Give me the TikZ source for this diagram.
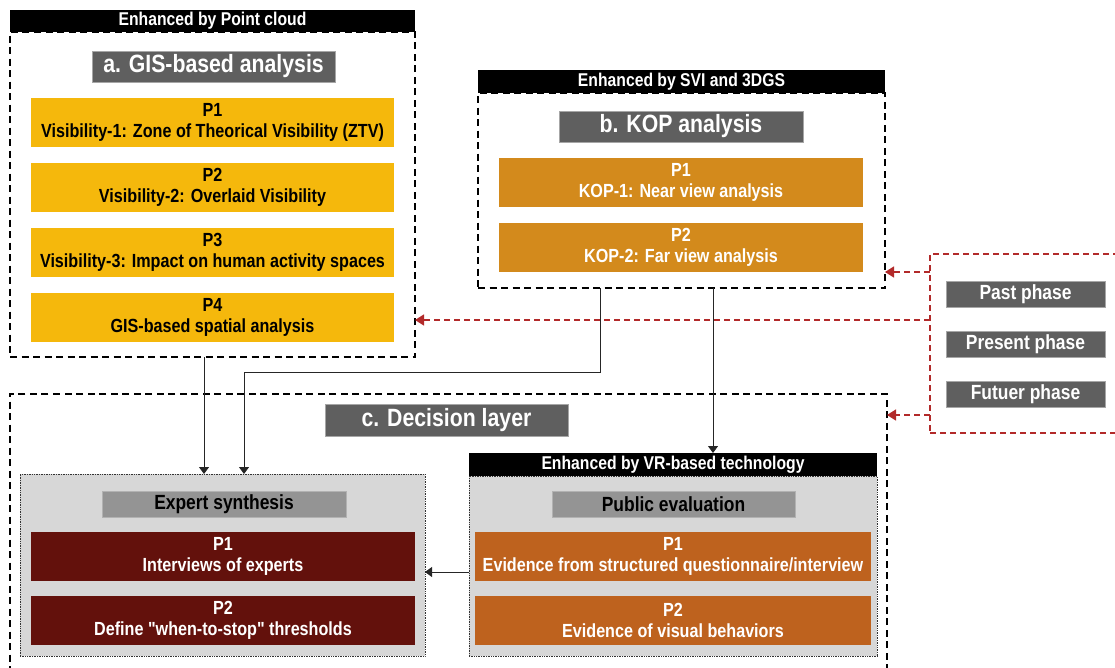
\documentclass[tikz,border=0pt]{standalone}
\usepackage{fontspec}
\setmainfont{Liberation Sans}[FakeStretch=0.85]
\newfontfamily\plainqf{Liberation Sans}[FakeStretch=0.85]
\usetikzlibrary{arrows.meta,calc}
\definecolor{cyel}{HTML}{F5B80C}
\definecolor{corgB}{HTML}{D38A1C}
\definecolor{cdred}{HTML}{63110C}
\definecolor{corgC}{HTML}{BE621E}
\definecolor{ctgray}{HTML}{5F5F5F}
\definecolor{clgray}{HTML}{D7D7D7}
\definecolor{csgray}{HTML}{949494}
\definecolor{cred}{HTML}{B22A2A}
\begin{document}
\begin{tikzpicture}[x=1pt,y=-1pt,
  every node/.style={inner sep=0pt, outer sep=0pt, anchor=north west},
  cont/.style={draw=black, line width=1.6pt, dash pattern=on 7pt off 4.5pt},
  hdr/.style={fill=black, text=white, font=\bfseries\fontsize{18.5}{20}\selectfont},
  ttl/.style={fill=ctgray, draw=gray!70, line width=0.6pt, text=white, font=\bfseries\fontsize{25}{28}\selectfont},
  pbox/.style={align=center, font=\bfseries\fontsize{19}{21.5}\selectfont},
  sub/.style={fill=csgray, draw=gray!60, line width=0.5pt, text=black, font=\bfseries\fontsize{20.5}{22}\selectfont},
  grp/.style={fill=clgray, draw=black!80, line width=0.7pt, densely dotted},
  phs/.style={fill=ctgray, draw=gray!70, line width=0.6pt, text=white, font=\bfseries\fontsize{20.5}{22}\selectfont},
  arr/.style={draw=black!85, line width=0.9pt, -{Triangle[width=10pt,length=7pt]}},
  rarr/.style={draw=cred, line width=1.5pt, dash pattern=on 6pt off 4pt, -{Triangle[width=11pt,length=9pt]}}
]
\clip (0,0) rectangle (1115,667);
% ---- Box A
\node[cont, minimum width=405, minimum height=325] (boxA) at (10,32) {};
\node[hdr, minimum width=405, minimum height=22] (hdrA) at (10,10) {Enhanced by Point cloud};
\node[ttl, minimum width=243, minimum height=31] (ttlA) at (92,51) {a. GIS-based analysis};
\node[pbox, fill=cyel, minimum width=363, minimum height=49] (a1) at (31,98) {P1\\Visibility-1: Zone of Theorical Visibility (ZTV)};
\node[pbox, fill=cyel, minimum width=363, minimum height=49] (a2) at (31,163) {P2\\Visibility-2: Overlaid Visibility};
\node[pbox, fill=cyel, minimum width=363, minimum height=49] (a3) at (31,228) {P3\\Visibility-3: Impact on human activity spaces};
\node[pbox, fill=cyel, minimum width=363, minimum height=49] (a4) at (31,293) {P4\\GIS-based spatial analysis};
% ---- Box B
\node[cont, minimum width=407, minimum height=195] (boxB) at (478,93) {};
\node[hdr, minimum width=407, minimum height=23] (hdrB) at (478,70) {Enhanced by SVI and 3DGS};
\node[ttl, minimum width=244, minimum height=31] (ttlB) at (559,111) {b. KOP analysis};
\node[pbox, fill=corgB, text=white, minimum width=364, minimum height=49] (b1) at (499,158) {P1\\KOP-1: Near view analysis};
\node[pbox, fill=corgB, text=white, minimum width=364, minimum height=49] (b2) at (499,223) {P2\\KOP-2: Far view analysis};
% ---- Box C
\node[cont, minimum width=877, minimum height=320] (boxC) at (10,394) {};
\node[ttl, minimum width=243, minimum height=32] (ttlC) at (325,404) {c. Decision layer};
\node[grp, minimum width=405, minimum height=182] (exp) at (20,474) {};
\node[sub, minimum width=244, minimum height=26] (expT) at (102,491) {Expert synthesis};
\node[pbox, fill=cdred, text=white, minimum width=384, minimum height=49] (e1) at (31,532) {P1\\Interviews of experts};
\node[pbox, fill=cdred, text=white, minimum width=384, minimum height=49] (e2) at (31,596) {P2\\Define {\plainqf"}when-to-stop{\plainqf"} thresholds};
\node[grp, minimum width=408, minimum height=180] (pub) at (469,476) {};
\node[hdr, minimum width=408, minimum height=23] (pubH) at (469,453) {Enhanced by VR-based technology};
\node[sub, minimum width=243, minimum height=26] (pubT) at (552,491) {Public evaluation};
\node[pbox, fill=corgC, text=white, minimum width=396, minimum height=49] (p1) at (475,532) {P1\\Evidence from structured questionnaire/interview};
\node[pbox, fill=corgC, text=white, minimum width=396, minimum height=49] (p2) at (475,596) {P2\\Evidence of visual behaviors};
% ---- Phases
\node[draw=cred, line width=1.5pt, dash pattern=on 6pt off 4pt, minimum width=200, minimum height=179] (phase) at (930,254) {};
\node[phs, minimum width=159, minimum height=26] (ph1) at (946,281) {Past phase};
\node[phs, minimum width=159, minimum height=26] (ph2) at (946,331) {Present phase};
\node[phs, minimum width=159, minimum height=26] (ph3) at (946,381) {Futuer phase};
% ---- Connectors
\draw[arr] (boxA.south -| 204,0) -- (exp.north -| 204,0);
\draw[arr] (boxB.south -| 600,0) -- ++(0,84) -| (exp.north -| 244,0);
\draw[arr] (boxB.south -| 713,0) -- (pubH.north -| 713,0);
\draw[arr] (pub.west |- 0,572) -- (exp.east |- 0,572);
\draw[rarr] (phase.west |- 0,272) -- (boxB.east |- 0,272);
\draw[rarr] (phase.west |- 0,320) -- (boxA.east |- 0,320);
\draw[rarr] (phase.west |- 0,415) -- (boxC.east |- 0,415);
\end{tikzpicture}
\end{document}
